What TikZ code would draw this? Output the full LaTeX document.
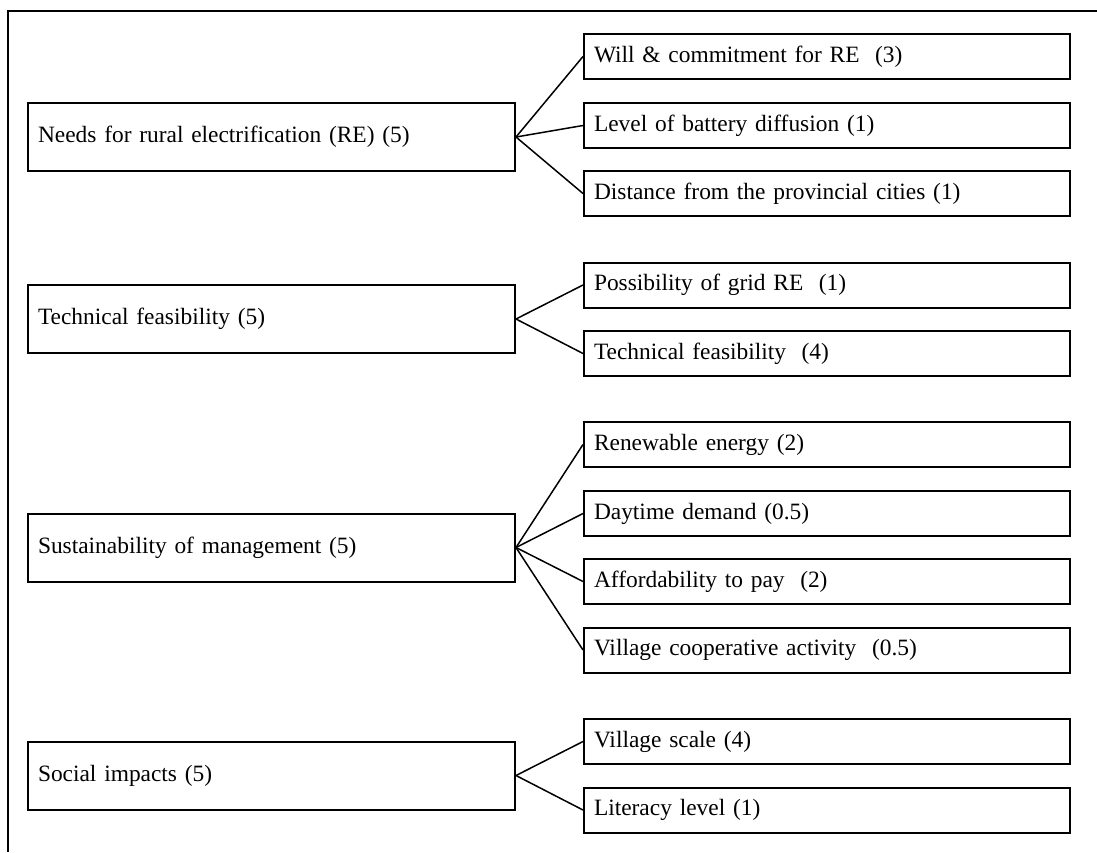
\documentclass[tikz,border=0pt]{standalone}
\usepackage{fontspec}
\setmainfont{Liberation Serif}
\begin{document}
\begin{tikzpicture}[x=1pt,y=-1pt,
  box/.style={draw,line width=2pt,rectangle,inner xsep=10pt,inner ysep=0pt,align=left,
    font=\fontsize{23.4}{28}\selectfont},
  mainbox/.style={box,minimum width=487pt,text width=467pt,minimum height=68pt},
  subbox/.style={box,minimum width=486pt,text width=466pt,minimum height=45pt},
  link/.style={line width=1.5pt},
  frame/.style={line width=2pt}]
\useasboundingbox (0,0) rectangle (1097,852);
\draw[frame] (8,852) -- (8,11) -- (1097,11);
% group 1
\node[mainbox] (m1) at (271.5,137) {Needs for rural electrification (RE) (5)};
\node[subbox] (a1) at (827,56.5) {Will \& commitment for RE~ (3)};
\node[subbox] (a2) at (827,125.5) {Level of battery diffusion (1)};
\node[subbox] (a3) at (827,193.5) {Distance from the provincial cities (1)};
% group 2
\node[mainbox] (m2) at (271.5,319) {Technical feasibility (5)};
\node[subbox] (b1) at (827,285) {Possibility of grid RE~ (1)};
\node[subbox] (b2) at (827,353.5) {Technical feasibility~ (4)};
% group 3
\node[mainbox] (m3) at (271.5,547.5) {Sustainability of management (5)};
\node[subbox] (c1) at (827,444.5) {Renewable energy (2)};
\node[subbox] (c2) at (827,513.5) {Daytime demand (0.5)};
\node[subbox] (c3) at (827,581.5) {Affordability to pay~ (2)};
\node[subbox] (c4) at (827,650) {Village cooperative activity~ (0.5)};
% group 4
\node[mainbox] (m4) at (271.5,775.5) {Social impacts (5)};
\node[subbox] (d1) at (827,741.5) {Village scale (4)};
\node[subbox] (d2) at (827,810) {Literacy level (1)};
% connectors
\foreach \s in {a1,a2,a3} \draw[link] (m1.east) -- (\s.west);
\foreach \s in {b1,b2} \draw[link] (m2.east) -- (\s.west);
\foreach \s in {c1,c2,c3,c4} \draw[link] (m3.east) -- (\s.west);
\foreach \s in {d1,d2} \draw[link] (m4.east) -- (\s.west);
\end{tikzpicture}
\end{document}
